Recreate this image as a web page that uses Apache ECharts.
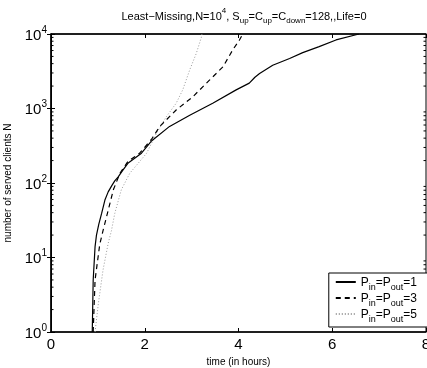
<!DOCTYPE html>
<html>
<head>
<meta charset="utf-8">
<script src="https://cdn.jsdelivr.net/npm/echarts@6/dist/echarts.min.js"></script>
<style>
  html, body { margin: 0; padding: 0; background: #fff; }
  #chart { width: 427px; height: 368px; }
</style>
</head>
<body>
<div id="chart"></div>
<script>
// Served clients over time for three P_in = P_out settings
const timeP1 = [0.88, 0.90, 0.94, 0.97, 1.02, 1.08, 1.15, 1.22, 1.30, 1.36, 1.43, 1.53, 1.64, 1.93, 2.15, 2.53, 2.96, 3.45, 3.95, 4.23, 4.35, 4.45, 4.73, 5.09, 5.37, 5.72, 6.08, 6.57];
const countP1 = [1, 5, 14, 20, 28, 39, 59, 76, 93, 107, 120, 148, 184, 251, 370, 575, 813, 1175, 1778, 2190, 2630, 2950, 3800, 4680, 5620, 6760, 8320, 10000];

const timeP3 = [0.90, 0.94, 1.04, 1.11, 1.22, 1.33, 1.47, 1.64, 1.89, 2.15, 2.32, 2.67, 3.03, 3.38, 3.67, 3.88, 4.02, 4.09];
const countP3 = [1, 5, 15, 23, 43, 81, 135, 194, 251, 390, 575, 955, 1445, 2400, 3630, 6170, 8300, 10000];

const timeP5 = [0.94, 1.01, 1.11, 1.22, 1.29, 1.36, 1.50, 1.68, 1.86, 2.04, 2.25, 2.46, 2.67, 2.81, 2.96, 3.10, 3.21, 3.22];
const countP5 = [1, 2.4, 6.8, 15.5, 23, 39, 81, 135, 184, 251, 465, 776, 1175, 1778, 3311, 5500, 9120, 10000];

const pValues = [1, 3, 5];
const minorTickValues = [2, 3, 4, 5, 6, 7, 8, 9,
  20, 30, 40, 50, 60, 70, 80, 90,
  200, 300, 400, 500, 600, 700, 800, 900,
  2000, 3000, 4000, 5000, 6000, 7000, 8000, 9000];

const pairs = (xs, ys) => xs.map((x, i) => [x, ys[i]]);
const fontFamily = 'Liberation Sans, Arial, sans-serif';

const supRich = {
  b: { fontSize: 15, fontFamily, color: '#000', lineHeight: 18, verticalAlign: 'bottom' },
  e: { fontSize: 10, fontFamily, color: '#000', lineHeight: 18, verticalAlign: 'top' }
};

const titleRich = {
  t: { fontSize: 11, fontWeight: 'normal', fontFamily, color: '#000', lineHeight: 15, verticalAlign: 'bottom' },
  sp: { fontSize: 8, fontWeight: 'normal', fontFamily, color: '#000', lineHeight: 15, verticalAlign: 'top' },
  sb: { fontSize: 8, fontWeight: 'normal', fontFamily, color: '#000', lineHeight: 15, verticalAlign: 'bottom', padding: [0, 0, -3, 0] }
};

const legendRich = {
  a: { fontSize: 12, fontFamily, color: '#000', lineHeight: 14, verticalAlign: 'bottom' },
  s: { fontSize: 9, fontFamily, color: '#000', lineHeight: 14, verticalAlign: 'bottom', padding: [0, 0, -3, 0] }
};

const seriesNames = pValues.map(p => 'P' + p);

const lineCommon = { showSymbol: false, symbol: 'none', smooth: false };

const chart = echarts.init(document.getElementById('chart'), null, { renderer: 'canvas' });

chart.setOption({
  animation: false,
  backgroundColor: '#fff',
  title: {
    text: '{t|Least\u2212Missing,N=10}{sp|4}{t|, S}{sb|up}{t|=C}{sb|up}{t|=C}{sb|down}{t|=128,,Life=0}',
    left: 239,
    textAlign: 'center',
    top: 2,
    textStyle: { fontWeight: 'normal', rich: titleRich }
  },
  grid: {
    left: 51, right: 1, top: 34, bottom: 36,
    outerBoundsMode: 'none', containLabel: false,
    show: true, borderColor: '#000', borderWidth: 1, backgroundColor: 'transparent'
  },
  legend: {
    data: seriesNames,
    orient: 'vertical',
    right: -6,
    top: 273,
    itemWidth: 20,
    itemHeight: 12,
    itemGap: 1,
    padding: [4, 16, 3, 6],
    backgroundColor: '#fff',
    borderColor: '#000',
    borderWidth: 1,
    itemStyle: { opacity: 0 },
    formatter: name => '{a|P}{s|in}{a|=P}{s|out}{a|=' + name.slice(1) + '}',
    textStyle: { rich: legendRich }
  },
  xAxis: [{
    type: 'value',
    min: 0, max: 8, interval: 2,
    name: 'time (in hours)',
    nameLocation: 'middle',
    nameGap: 22,
    nameTextStyle: { fontSize: 10, fontFamily, color: '#000' },
    axisLine: { show: true, lineStyle: { color: '#000', width: 1.5 } },
    axisTick: { show: true, inside: true, length: 4, lineStyle: { color: '#000' } },
    axisLabel: { fontSize: 15, fontFamily, color: '#000', margin: 5 },
    splitLine: { show: false }
  }, {
    type: 'value',
    position: 'top',
    min: 0, max: 8, interval: 2,
    axisLine: { show: true, lineStyle: { color: '#000', width: 1.5 } },
    axisTick: { show: true, inside: true, length: 4, lineStyle: { color: '#000' } },
    axisLabel: { show: false },
    splitLine: { show: false }
  }],
  yAxis: [{
    type: 'log',
    logBase: 10,
    min: 1, max: 10000,
    name: 'number of served clients N',
    nameLocation: 'middle',
    nameGap: 38,
    nameTextStyle: { fontSize: 10, fontFamily, color: '#000' },
    axisLine: { show: true, lineStyle: { color: '#000', width: 1.5 } },
    axisTick: { show: true, inside: true, length: 4, lineStyle: { color: '#000' } },
    axisLabel: {
      margin: 4,
      formatter: v => '{b|10}{e|' + Math.round(Math.log10(v)) + '}',
      rich: supRich
    },
    splitLine: { show: false }
  }, {
    type: 'log',
    logBase: 10,
    min: 1, max: 10000,
    position: 'right',
    axisLine: { show: true, lineStyle: { color: '#000', width: 1 } },
    axisTick: { show: true, inside: true, length: 4, lineStyle: { color: '#000' } },
    axisLabel: { show: false },
    splitLine: { show: false }
  }],
  series: [
    Object.assign({
      name: seriesNames[0], type: 'line', data: pairs(timeP1, countP1),
      lineStyle: { color: '#000', width: 1.2, type: 'solid' },
      itemStyle: { color: '#000' }, z: 5
    }, lineCommon),
    Object.assign({
      name: seriesNames[1], type: 'line', data: pairs(timeP3, countP3),
      lineStyle: { color: '#000', width: 1.2, type: [5, 4] },
      itemStyle: { color: '#000' }, z: 4
    }, lineCommon),
    Object.assign({
      name: seriesNames[2], type: 'line', data: pairs(timeP5, countP5),
      lineStyle: { color: '#999', width: 1, type: [1, 2] },
      itemStyle: { color: '#999' }, z: 3
    }, lineCommon),
    {
      // minor log ticks on the left and right frame edges
      type: 'custom',
      silent: true,
      data: minorTickValues.map(v => [0, v]),
      encode: { x: 0, y: 1 },
      renderItem: (params, api) => {
        const n = api.value(1);
        const left = api.coord([0, n]);
        const right = api.coord([8, n]);
        return {
          type: 'group',
          children: [
            { type: 'line', shape: { x1: left[0], y1: left[1], x2: left[0] + 2.5, y2: left[1] }, style: { stroke: '#000', lineWidth: 1 } },
            { type: 'line', shape: { x1: right[0], y1: right[1], x2: right[0] - 2.5, y2: right[1] }, style: { stroke: '#000', lineWidth: 1 } }
          ]
        };
      },
      z: 1
    }
  ]
});
</script>
</body>
</html>
